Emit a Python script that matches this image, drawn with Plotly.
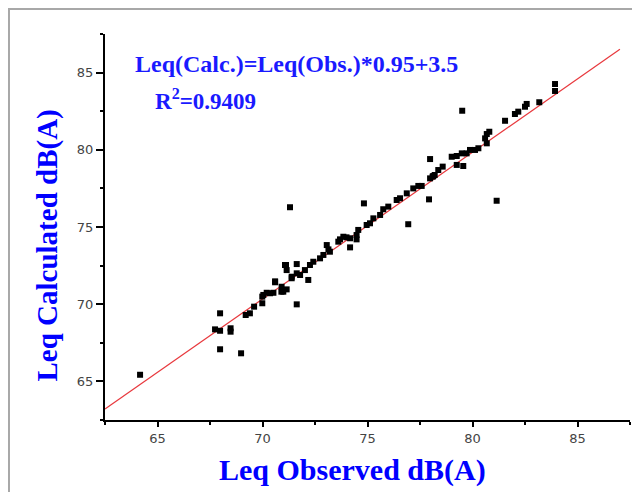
import plotly.graph_objects as go

# Observed vs calculated Leq values (dB(A))
leq_observed = [
    64.17, 67.98, 68.98, 67.98, 67.74, 67.98, 68.48, 68.48, 69.20, 69.40,
    69.60, 69.99, 69.99, 70.20, 70.52, 70.60, 70.90, 71.15, 71.07, 71.15,
    71.63, 71.63, 71.39, 71.63, 71.31, 74.83, 76.94, 77.93, 77.98, 78.58,
    78.10, 78.20, 77.42, 77.18, 76.87, 76.55, 76.39, 75.99, 75.75, 75.60,
    75.28, 75.12, 74.96, 74.56, 74.48, 74.17, 74.00, 73.85, 73.69, 73.61,
    74.17, 74.48, 73.06, 73.14, 73.21, 72.90, 72.74, 72.42, 72.26, 71.12,
    72.02, 72.18, 71.79, 71.39, 70.60, 70.91, 70.99, 70.36, 70.04, 83.93,
    83.93, 83.18, 82.58, 82.50, 82.18, 82.02, 81.55, 79.51, 81.15, 80.80,
    80.68, 80.60, 80.68, 80.28, 80.12, 79.88, 79.72, 79.49, 79.25, 79.01,
    79.56, 79.25, 78.37, 78.13, 77.98, 77.58,
]
leq_calculated = [
    65.43, 67.08, 66.82, 69.41, 68.37, 68.28, 68.44, 68.22, 69.30, 69.41,
    69.84, 70.06, 70.49, 70.74, 70.74, 71.42, 70.81, 70.96, 72.54, 72.21,
    72.60, 69.99, 71.68, 72.00, 76.28, 76.53, 75.18, 76.79, 79.40, 78.91,
    78.26, 78.37, 77.66, 77.50, 77.18, 76.86, 76.75, 76.32, 76.15, 75.78,
    75.56, 75.24, 75.13, 74.81, 74.48, 74.27, 74.33, 74.37, 74.20, 74.05,
    73.68, 74.20, 73.83, 73.55, 73.40, 73.19, 72.97, 72.75, 72.54, 72.54,
    72.21, 71.57, 71.89, 71.78, 71.48, 71.13, 70.81, 70.71, 70.60, 84.26,
    83.81, 83.08, 82.97, 82.79, 82.47, 82.32, 81.88, 82.53, 76.70, 81.17,
    81.02, 80.74, 80.42, 80.10, 79.99, 79.99, 79.77, 79.77, 79.60, 79.55,
    78.95, 79.02, 78.69, 78.30, 78.15, 77.66,
]

# Regression line end points as drawn
fit_x = [62.5, 87.02]
fit_y = [63.21, 86.51]

equation_text = "Leq(Calc.)=Leq(Obs.)*0.95+3.5"
r2_text = "R<sup>2</sup>=0.9409"
x_title = "Leq Observed dB(A)"
y_title = "Leq Calculated dB(A)"

fig = go.Figure()
fig.add_trace(go.Scatter(
    x=fit_x, y=fit_y, mode="lines",
    line=dict(color="#e8383d", width=1.2), showlegend=False, hoverinfo="skip"))
fig.add_trace(go.Scatter(
    x=leq_observed, y=leq_calculated, mode="markers",
    marker=dict(symbol="square", size=6, color="black"), showlegend=False))

axis_common = dict(
    range=[62.5, 87.5], tick0=65, dtick=5, showgrid=False, zeroline=False,
    showline=True, linecolor="black", linewidth=2,
    ticks="outside", tickcolor="black", tickwidth=1.5,
    tickfont=dict(family="DejaVu Sans", size=13, color="#444"),
    minor=dict(ticks="outside", tick0=62.5, dtick=2.5, ticklen=3,
               tickcolor="black", tickwidth=1.5, showgrid=False),
)
fig.update_xaxes(**axis_common, ticklen=5)
fig.update_yaxes(**axis_common, ticklen=7)

blue = "#1a1aff"
# The page body has an 8px margin; the figure is sized/offset to compensate.
fig.update_layout(
    width=632, height=484,
    margin=dict(l=97, r=10, t=26, b=72),
    paper_bgcolor="white", plot_bgcolor="white",
    annotations=[
        dict(text=equation_text, x=0.0533, y=0.921, xref="paper", yref="paper",
             xanchor="left", yanchor="middle", showarrow=False,
             font=dict(family="Liberation Serif", size=24, color=blue, weight="bold")),
        dict(text=r2_text, x=0.0914, y=0.8306, xref="paper", yref="paper",
             xanchor="left", yanchor="middle", showarrow=False,
             font=dict(family="Liberation Serif", size=23, color=blue, weight="bold")),
        dict(text=x_title, x=0.472, y=-0.1306, xref="paper", yref="paper",
             xanchor="center", yanchor="middle", showarrow=False,
             font=dict(family="Liberation Serif", size=30, color="blue", weight="bold")),
        dict(text=y_title, x=-0.1097, y=0.453, xref="paper", yref="paper",
             xanchor="center", yanchor="middle", showarrow=False, textangle=-90,
             font=dict(family="Liberation Serif", size=29, color="blue", weight="bold")),
    ],
    shapes=[
        dict(type="rect", xref="paper", yref="paper",
             x0=-0.1829, x1=1.05, y0=-0.25, y1=1.0645,
             line=dict(color="#a8a8a8", width=2), layer="below"),
    ],
)

fig.write_html("out.html")
